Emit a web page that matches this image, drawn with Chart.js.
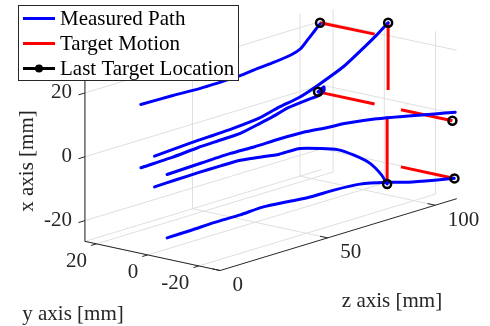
<!DOCTYPE html>
<html>
<head>
<meta charset="utf-8">
<script src="https://cdn.jsdelivr.net/npm/chart.js@4.4.1/dist/chart.umd.min.js"></script>
<style>
  html, body { margin: 0; padding: 0; background: #fff; }
  #wrap { width: 490px; height: 326px; }
</style>
</head>
<body>
<div id="wrap"><canvas id="paths3d" width="490" height="326"></canvas></div>
<script>
// axis limits and ticks [mm]
const xLim = [-26.5, 24.5];
const yLim = [-28.3, 24.5];
const zLim = [0, 110];
const xTicks = [-20, 0, 20];
const yTicks = [-20, 0, 20];
const zTicks = [0, 50, 100];

// measured tool paths, points are [x, y, z] in mm
const path1 = [[19.5,4.3,1.9],[19.5,3.7,15.7],[19.5,2.8,28.2],[19.5,3.0,39.8],[19.5,3.3,46.9],[19.5,4.6,56.1],
  [19.5,5.6,65.5],[19.5,7.4,75.8],[19.5,9.7,82.6],[19.5,15.2,92.7],[19.5,19.6,100.7],[19.5,24.0,108.7]];
const path2 = [[4.4,-1.5,1.4],[5.1,-1.5,18.6],[5.6,-1.5,36.7],[6.4,-1.5,50.3],[7.9,-1.5,59.3],[9.0,-1.5,68.4],
  [11.1,-1.5,77.4],[14.6,-1.5,89.6],[18.5,-1.5,98.7],[21.2,-1.5,104.6],[24.0,-1.5,110]];
const path3 = [[-0.4,4.4,2.1],[-0.6,5.6,18.0],[-0.7,7.3,32.2],[-0.9,8.3,43.8],[-1.1,9.3,54.1],[-1.2,12.5,66.9],
  [-1.4,15.1,75.9],[-1.6,18.9,88.1],[-1.7,20.7,99.2],[-1.9,21.7,105.0],[-1.7,23.6,110],[-0.5,23.6,110],[-2.4,25.9,110]];
const path4 = [[-0.7,-5.9,2.0],[-0.7,-5.1,18.9],[-0.7,-4.5,33.1],[-0.7,-5.0,43.8],[-0.7,-4.8,55.4],[-0.7,-5.3,66.1],
  [-0.7,-7.2,75.1],[-0.7,-8.1,81.8],[-0.7,-11.8,92.3],[-0.7,-17.0,101.0],[-0.7,-21.5,107.8],[0.5,-27.7,110]];
const path5 = [[-5.4,-1.1,1.9],[-5.2,-1.1,12.3],[-5.1,-1.1,22.2],[-5.1,-1.1,32.6],[-5.2,-1.1,41.7],[-6.1,-1.1,50.7],
  [-7.0,-1.1,59.8],[-7.1,-1.1,68.8],[-9.2,-1.1,79.2],[-11.1,-1.1,86.9],[-14.4,-1.1,94.6],[-18.4,-1.1,101.9],
  [-23.1,-1.1,107.3],[-26.6,-1.1,110]];
const path6 = [[-20.3,-6.5,1.3],[-20.3,-6.3,12.8],[-20.3,-5.7,24.0],[-20.3,-5.9,36.0],[-20.3,-5.2,47.2],[-20.3,-6.9,57.4],
  [-20.3,-8.4,64.6],[-20.3,-8.7,76.6],[-20.3,-10.1,86.6],[-20.3,-14.6,93.4],[-20.3,-19.8,97.7],[-20.3,-24.3,104.5],
  [-20.3,-27.3,110]];

// target moved from start to end (last location)
const targetStart = [[19.5,3.8,110],[2.9,-1.5,110],[-2.4,3.8,110],[-2.4,-6.5,110],[-5.5,-1.1,110],[-20.3,-6.5,110]];
const targetEnd = [[19.4,25.1,110],[24.0,-1.5,110],[-2.4,25.9,110],[-2.4,-26.6,110],[-26.6,-1.1,110],[-20.3,-27.4,110]];

const legendLabels = ['Measured Path', 'Target Motion', 'Last Target Location'];

// fixed orthographic camera: screen units per mm of x, y, z
const view = { ox: 145, oy: 170.6, ex: [0, -3.325], ey: [-2.63, -0.575], ez: [2.21, -0.68] };
function proj(p) {
  return {
    x: view.ox + p[0] * view.ex[0] + p[1] * view.ey[0] + p[2] * view.ez[0],
    y: view.oy + p[0] * view.ex[1] + p[1] * view.ey[1] + p[2] * view.ez[1]
  };
}

const FONT = '21px "Liberation Serif", "Times New Roman", serif';
const AXIS_COLOR = '#262626';
const GRID_COLOR = 'rgb(223,223,223)';

const axes3d = {
  id: 'axes3d',
  beforeDatasetsDraw(chart) {
    const ctx = chart.ctx, sx = chart.scales.x, sy = chart.scales.y;
    const pix = p => { const q = proj(p); return [sx.getPixelForValue(q.x), sy.getPixelForValue(q.y)]; };
    const seg = (a, b) => { const p = pix(a), q = pix(b); ctx.moveTo(p[0], p[1]); ctx.lineTo(q[0], q[1]); };
    const [x0, x1] = xLim, [y0, y1] = yLim, [z0, z1] = zLim;

    ctx.save();
    // grid on the back planes
    ctx.strokeStyle = GRID_COLOR;
    ctx.lineWidth = 1;
    ctx.beginPath();
    yTicks.forEach(y => seg([x0, y, z0], [x0, y, z1]));
    zTicks.forEach(z => seg([x0, y0, z], [x0, y1, z]));
    seg([x0, y1, z0], [x0, y1, z1]);
    xTicks.forEach(x => seg([x, y1, z0], [x, y1, z1]));
    zTicks.forEach(z => seg([x0, y1, z], [x1, y1, z]));
    xTicks.forEach(x => seg([x, y0, z1], [x, y1, z1]));
    yTicks.forEach(y => seg([x0, y, z1], [x1, y, z1]));
    ctx.stroke();

    // axis lines and ticks
    ctx.strokeStyle = AXIS_COLOR;
    ctx.lineWidth = 1;
    ctx.beginPath();
    seg([x0, y1, z0], [x1, y1, z0]);
    seg([x0, y0, z0], [x0, y1, z0]);
    seg([x0, y0, z0], [x0, y0, z1]);
    xTicks.forEach(x => seg([x, y1, z0], [x, y1, z0 - 3]));
    yTicks.forEach(y => seg([x0, y, z0], [x0, y, z0 - 2.5]));
    zTicks.forEach(z => seg([x0, y0, z], [x0, y0 + 3, z]));
    ctx.stroke();

    // tick labels
    ctx.fillStyle = AXIS_COLOR;
    ctx.font = FONT;
    ctx.textBaseline = 'middle';
    ctx.textAlign = 'right';
    xTicks.forEach(x => { const p = pix([x, y1, z0]); ctx.fillText(String(x), p[0] - 13, p[1]); });
    yTicks.forEach(y => { const p = pix([x0, y, z0]); ctx.fillText(String(y), p[0] - 9.5, p[1] + 18); });
    ctx.textAlign = 'left';
    zTicks.forEach(z => { const p = pix([x0, y0, z]); ctx.fillText(String(z), p[0] + 12.5, p[1] + 15); });

    // axis titles
    ctx.textAlign = 'center';
    ctx.fillText('y axis [mm]', 73, 314);
    ctx.fillText('z axis [mm]', 392, 301);
    ctx.save();
    ctx.translate(27, 161);
    ctx.rotate(-Math.PI / 2);
    ctx.fillText('x axis [mm]', 0, 0);
    ctx.restore();
    ctx.restore();
  },
  afterDatasetsDraw(chart) {
    const ctx = chart.ctx;
    ctx.save();
    ctx.fillStyle = '#fff';
    ctx.fillRect(18.5, 5.5, 220, 75);
    ctx.strokeStyle = AXIS_COLOR;
    ctx.lineWidth = 1;
    ctx.strokeRect(18.5, 5.5, 220, 75);
    const colors = ['#0000ff', '#ff0000', '#000000'];
    ctx.font = FONT;
    ctx.textBaseline = 'middle';
    ctx.textAlign = 'left';
    legendLabels.forEach((lab, i) => {
      const yy = 18.5 + i * 25;
      ctx.strokeStyle = colors[i];
      ctx.lineWidth = 3;
      ctx.beginPath();
      ctx.moveTo(23, yy);
      ctx.lineTo(55, yy);
      ctx.stroke();
      if (i === 2) {
        ctx.fillStyle = '#000';
        ctx.beginPath();
        ctx.arc(39, yy, 4, 0, Math.PI * 2);
        ctx.fill();
      }
      ctx.fillStyle = '#000';
      ctx.fillText(lab, 60, yy + 1);
    });
    ctx.restore();
  }
};

const paths = [path1, path2, path3, path4, path5, path6];
const datasets = [];
paths.forEach(p => datasets.push({
  data: p.map(proj), showLine: true, borderColor: '#0000ff', borderWidth: 3,
  pointRadius: 0, tension: 0.2, borderCapStyle: 'round', borderJoinStyle: 'round', order: 2
}));
targetStart.forEach((s, i) => datasets.push({
  data: [proj(s), proj(targetEnd[i])], showLine: true, borderColor: '#ff0000', borderWidth: 3,
  pointRadius: 0, order: 3
}));
datasets.push({
  data: targetEnd.map(proj), showLine: false, pointRadius: 4, pointBorderWidth: 2.5,
  pointBorderColor: '#000', pointBackgroundColor: 'rgba(255,255,255,0)', order: 1
});

new Chart(document.getElementById('paths3d'), {
  type: 'scatter',
  data: { datasets: datasets },
  options: {
    responsive: false,
    animation: false,
    layout: { padding: 0 },
    plugins: { legend: { display: false }, tooltip: { enabled: false } },
    scales: {
      x: { type: 'linear', min: 0, max: 490, display: false },
      y: { type: 'linear', min: 0, max: 326, reverse: true, display: false }
    }
  },
  plugins: [axes3d]
});
</script>
</body>
</html>
